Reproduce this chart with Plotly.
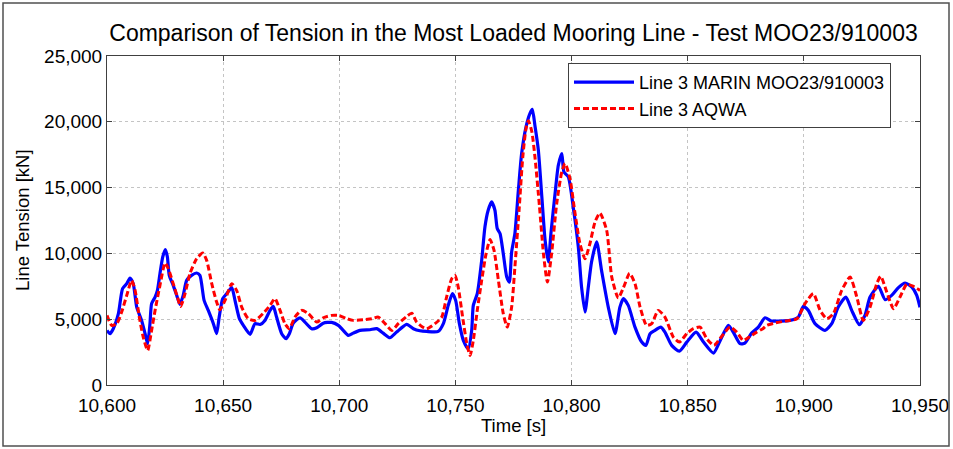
import plotly.graph_objects as go

# ---- data ----
marin_time = [10600.0, 10601.3, 10602.7, 10604.9, 10606.7, 10608.5, 10609.9, 10611.3, 10612.8, 10614.9,
              10616.4, 10617.5, 10618.5, 10619.2, 10620.7, 10621.7, 10622.8, 10624.0, 10625.1, 10626.0,
              10626.8, 10628.5, 10630.0, 10631.4, 10632.8, 10634.3, 10636.4, 10638.6, 10640.0, 10641.8,
              10643.6, 10645.8, 10647.2, 10648.3, 10649.8, 10651.5, 10653.7, 10655.1, 10657.0, 10658.7,
              10661.6, 10663.7, 10665.9, 10668.0, 10670.2, 10671.6, 10673.0, 10675.2, 10677.1, 10678.5,
              10680.2, 10683.1, 10685.2, 10688.1, 10690.3, 10693.1, 10696.7, 10699.6, 10701.7, 10703.9,
              10706.0, 10708.9, 10713.2, 10716.1, 10718.9, 10721.8, 10724.7, 10729.0, 10731.9, 10734.7,
              10737.6, 10742.6, 10744.8, 10746.9, 10748.7, 10750.1, 10751.7, 10753.4, 10755.5, 10757.0,
              10757.7, 10759.4, 10761.3, 10762.7, 10764.1, 10765.6, 10767.0, 10768.0, 10769.2, 10770.6,
              10772.1, 10773.2, 10774.2, 10775.6, 10777.1, 10778.5, 10780.4, 10782.1, 10783.1, 10784.3,
              10785.7, 10787.2, 10788.6, 10790.0, 10791.1, 10792.9, 10794.3, 10795.8, 10796.7, 10798.6,
              10800.7, 10802.9, 10804.3, 10805.8, 10807.2, 10808.6, 10810.8, 10812.9, 10815.8, 10818.7,
              10820.8, 10822.3, 10824.4, 10827.3, 10830.2, 10832.0, 10833.8, 10835.9, 10838.4, 10840.2,
              10843.1, 10846.4, 10849.6, 10853.6, 10856.8, 10861.1, 10864.0, 10867.5, 10869.6, 10872.5,
              10874.6, 10877.5, 10880.4, 10883.3, 10886.1, 10889.7, 10894.0, 10897.6, 10899.8, 10901.9,
              10904.8, 10909.1, 10912.0, 10914.8, 10918.1, 10920.6, 10923.9, 10926.3, 10928.5, 10932.1,
              10935.0, 10937.8, 10940.7, 10943.6, 10946.5, 10948.6, 10950.0]
marin_tension = [4150, 3900, 4280, 5420, 7320, 7700, 8130, 7700, 5920, 4900,
                 3900, 3130, 4660, 6180, 6680, 7190, 8460, 9730, 10290, 9730,
                 8330, 7570, 6810, 6130, 6810, 7950, 8330, 8510, 8330, 6430,
                 5670, 4660, 3900, 5160, 6560, 6940, 7400, 6430, 5040, 4530,
                 3850, 4660, 4600, 4910, 5670, 5970, 5160, 3900, 3520, 3900,
                 4710, 5110, 4780, 4280, 4350, 4700, 4760, 4530, 4150, 3770,
                 3940, 4150, 4200, 4280, 3940, 3590, 4020, 4600, 4280, 4120,
                 4070, 4070, 4660, 6050, 6940, 6430, 4660, 3390, 2750, 4150,
                 6050, 6940, 9470, 12010, 13280, 13910, 13280, 11890, 11510, 9980,
                 8200, 7820, 10110, 11510, 14800, 17590, 19620, 20640, 20940, 19620,
                 17850, 14290, 11000, 9350, 11510, 14550, 16700, 17590, 16200, 15810,
                 13530, 10490, 7440, 5540, 7440, 9350, 10870, 8710, 5920, 3900,
                 5920, 6560, 6050, 4400, 3260, 3010, 3900, 4150, 4400, 4020,
                 3010, 2570, 3260, 4020, 3260, 2420, 3390, 4530, 4020, 3140,
                 3180, 3940, 4400, 5110, 4860, 4860, 4910, 5160, 5970, 5670,
                 4660, 4150, 4660, 5920, 6680, 5670, 4580, 5290, 6680, 7500,
                 6480, 6810, 7400, 7750, 7440, 6810, 5900]

aqwa_time = [10600.0, 10602.0, 10604.2, 10606.3, 10608.5, 10610.6, 10612.1, 10613.9, 10615.6, 10617.5,
             10619.2, 10620.7, 10622.8, 10625.0, 10626.4, 10628.5, 10630.3, 10631.7, 10633.6, 10635.7,
             10638.6, 10641.2, 10642.9, 10645.1, 10647.2, 10648.6, 10650.8, 10653.7, 10655.8, 10658.0,
             10660.8, 10663.7, 10667.3, 10670.2, 10672.3, 10674.5, 10676.6, 10678.5, 10680.9, 10683.8,
             10686.7, 10690.3, 10693.1, 10696.7, 10699.6, 10703.2, 10706.0, 10710.4, 10714.0, 10716.8,
             10719.7, 10722.6, 10725.4, 10729.0, 10731.2, 10733.3, 10735.5, 10737.6, 10741.2, 10744.1,
             10746.2, 10748.4, 10749.8, 10751.2, 10753.1, 10754.9, 10756.3, 10757.7, 10759.4, 10761.3,
             10763.2, 10764.9, 10766.6, 10768.5, 10770.6, 10772.3, 10774.2, 10775.6, 10777.4, 10779.0,
             10780.4, 10781.4, 10782.9, 10784.3, 10786.2, 10787.9, 10789.6, 10791.4, 10793.6, 10795.8,
             10797.2, 10799.3, 10801.5, 10803.6, 10805.8, 10807.9, 10810.1, 10812.2, 10815.1, 10817.3,
             10820.1, 10822.3, 10825.0, 10827.3, 10829.5, 10832.3, 10834.5, 10837.3, 10840.2, 10843.8,
             10846.4, 10849.6, 10852.4, 10855.3, 10858.2, 10861.3, 10864.6, 10868.2, 10871.1, 10873.9,
             10876.8, 10879.7, 10882.5, 10884.0, 10887.6, 10891.9, 10897.0, 10900.5, 10904.1, 10907.0,
             10909.9, 10912.7, 10916.3, 10919.9, 10922.8, 10925.6, 10928.5, 10931.4, 10933.1, 10935.7,
             10938.6, 10941.4, 10944.3, 10947.1, 10950.0]
aqwa_tension = [5290, 4530, 4660, 5540, 6810, 7950, 7190, 5160, 3640, 2630,
                4150, 5670, 7570, 9270, 8840, 7700, 6680, 5970, 6940, 8460,
                9600, 10030, 9470, 7700, 6300, 5720, 6430, 7700, 7190, 5920,
                5040, 4910, 5460, 6050, 6560, 5670, 4660, 4280, 5160, 5670,
                5420, 4780, 5110, 5290, 5290, 5040, 4910, 4960, 5040, 5160,
                4660, 4150, 4660, 5210, 5460, 4780, 4450, 4280, 4660, 5160,
                6680, 8080, 8330, 7440, 5160, 3140, 2250, 3390, 5670, 7950,
                9980, 11050, 10240, 7950, 5420, 4400, 5920, 8960, 13280, 17340,
                19500, 20080, 19240, 17210, 13530, 9980, 7820, 9980, 13790, 16200,
                16830, 15690, 13030, 10750, 9600, 10750, 12390, 13070, 11760, 8200,
                6620, 7380, 8480, 7700, 5920, 4530, 4660, 5670, 5160, 3640,
                3260, 3900, 4280, 4400, 3520, 3010, 3690, 4400, 4020, 3390,
                3690, 4020, 4300, 4530, 4710, 4860, 5040, 6180, 6940, 5670,
                5040, 5420, 7190, 8200, 6680, 4910, 5920, 7700, 8260, 7060,
                5800, 6680, 7650, 7500, 7190]

x_ticks = [10600, 10650, 10700, 10750, 10800, 10850, 10900, 10950]
y_ticks = [0, 5000, 10000, 15000, 20000, 25000]

title_text = "Comparison of Tension in the Most Loaded Mooring Line - Test MOO23/910003"
marin_name = "Line 3 MARIN MOO23/910003"
aqwa_name = "Line 3 AQWA"

FONT = "Liberation Sans, Arial, sans-serif"

fig = go.Figure()
fig.add_trace(go.Scatter(x=marin_time, y=marin_tension, mode="lines", name=marin_name,
                         line=dict(color="#0000FF", width=3.2, shape="spline", smoothing=0.6)))
fig.add_trace(go.Scatter(x=aqwa_time, y=aqwa_tension, mode="lines", name=aqwa_name,
                         line=dict(color="#FF0000", width=3, dash="6px,3px", shape="spline", smoothing=0.6)))

W, H = 953, 449
L, R, T, B = 107, 33, 56, 64
pw, ph = W - L - R, H - T - B

def px2paper_x(px):
    return (px - L) / pw

def py2paper_y(py):
    return (H - B - py) / ph

axis_common = dict(showgrid=True, gridcolor="#c4c4c4", griddash="dot", gridwidth=1,
                   showline=True, linecolor="#404040", linewidth=1, mirror="ticks",
                   ticks="inside", ticklen=5, tickcolor="#404040", zeroline=False,
                   automargin=False,
                   tickfont=dict(family=FONT, size=19, color="#000000"), tickformat=",")

fig.update_layout(
    width=W, height=H,
    margin=dict(l=L, r=R, t=T, b=B, autoexpand=False),
    paper_bgcolor="white", plot_bgcolor="white",
    title=dict(text=title_text, x=0.5, xref="paper", y=1 - 33 / H, yref="container",
               xanchor="center", yanchor="middle",
               font=dict(family=FONT, size=23, color="#000000")),
    xaxis=dict(range=[10600, 10950], tickvals=x_ticks, ticklabelstandoff=3, **axis_common),
    yaxis=dict(range=[0, 25000], tickvals=y_ticks, **axis_common),
    legend=dict(x=px2paper_x(568), y=py2paper_y(63), xanchor="left", yanchor="top",
                bgcolor="white", bordercolor="#404040", borderwidth=1,
                font=dict(family=FONT, size=18, color="#000000"),
                tracegroupgap=0, itemwidth=60),
    showlegend=True,
)

fig.add_annotation(text="Time [s]", xref="paper", yref="paper", x=0.5, y=py2paper_y(425),
                   showarrow=False, xanchor="center", yanchor="middle",
                   font=dict(family=FONT, size=18.5, color="#000000"))
fig.add_annotation(text="Line Tension [kN]", xref="paper", yref="paper", x=px2paper_x(22), y=py2paper_y(220),
                   showarrow=False, textangle=-90, xanchor="center", yanchor="middle",
                   font=dict(family=FONT, size=18.5, color="#000000"))

# outer frame of the picture
fig.add_shape(type="rect", xref="paper", yref="paper",
              x0=px2paper_x(3), x1=px2paper_x(949), y0=py2paper_y(446), y1=py2paper_y(3),
              line=dict(color="#505050", width=1.5), fillcolor="rgba(0,0,0,0)", layer="above")

fig.write_html("out.html", config={"displayModeBar": False},
               post_script="document.body.style.margin='0';document.body.style.overflow='hidden';")
